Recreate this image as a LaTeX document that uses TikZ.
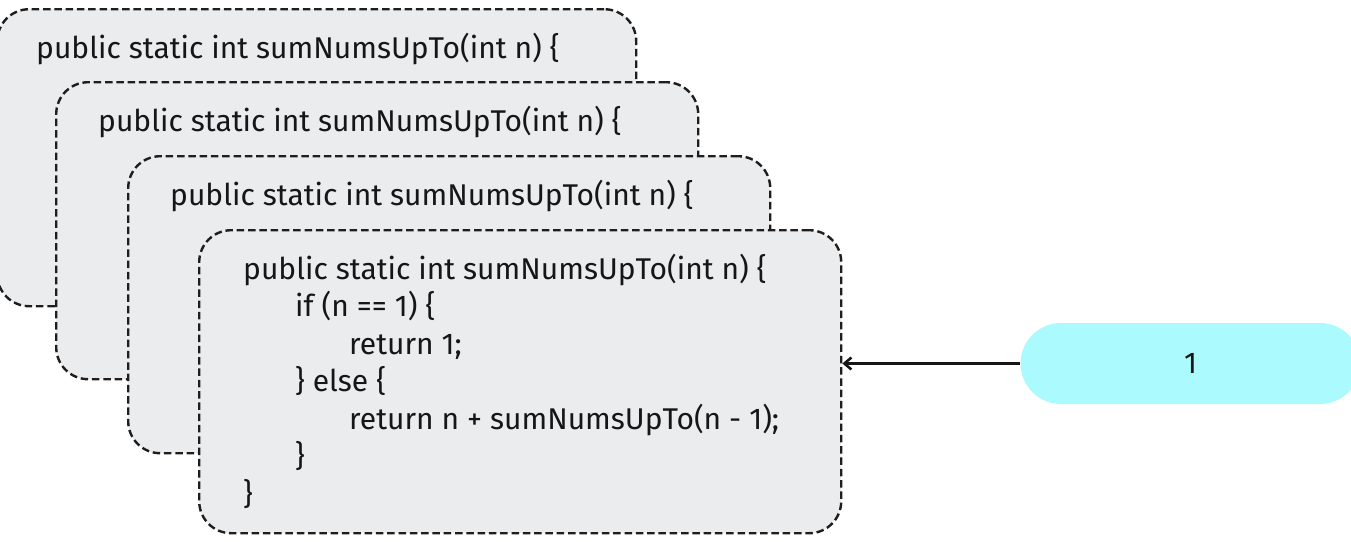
\documentclass[tikz,border=0pt]{standalone}
\usepackage{fontspec}
\setmainfont{Fira Sans}
\usetikzlibrary{arrows.meta}

\definecolor{boxfill}{HTML}{EBECEE}
\definecolor{boxline}{HTML}{1E1E1E}
\definecolor{pillfill}{HTML}{ABFAFE}
\definecolor{ink}{HTML}{161616}

\begin{document}
\begin{tikzpicture}[x=1pt,y=-1pt,
  frame/.style={draw=boxline, fill=boxfill, line width=2.4pt,
    dash pattern=on 7.5pt off 3.8pt, rounded corners=32pt,
    anchor=north west, inner sep=0pt, minimum width=642pt, minimum height=297pt},
  code/.style={anchor=base west, inner sep=0pt, text=ink,
    font=\fontsize{30}{36}\selectfont},
  pill/.style={fill=pillfill, draw=none, rounded corners=40.5pt,
    minimum width=340pt, minimum height=81pt, inner sep=0pt},
  link/.style={draw=ink, line width=2.6pt, -{Straight Barb[length=7pt,width=12pt]}},
]
\useasboundingbox (0,0) rectangle (1351,541);

% stacked call frames, deepest call on top
\node[frame, minimum width=639pt] (box1) at (-4,8) {};
\node[code] (b1l1) at (36,58) {public static int sumNumsUpTo(int n) \{};

\node[frame] (box2) at (55,81) {};
\node[code] (b2l1) at (98,131) {public static int sumNumsUpTo(int n) \{};

\node[frame] (box3) at (127,155) {};
\node[code] (b3l1) at (170,205) {public static int sumNumsUpTo(int n) \{};

\node[frame, minimum height=303pt] (box4) at (198,229) {};
\node[code] (b4l1) at (243,279)   {public static int sumNumsUpTo(int n) \{};
\node[code] (b4l2) at (295,316.5) {if (n == 1) \{};
\node[code] (b4l3) at (349,354)   {return 1;};
\node[code] (b4l4) at (295,391.5) {\} else \{};
\node[code] (b4l5) at (349,429)   {return n + sumNumsUpTo(n - 1);};
\node[code] (b4l6) at (295,466.5) {\}};
\node[code] (b4l7) at (243,504)   {\}};

% returned value
\node[pill, font=\fontsize{30}{36}\selectfont, text=ink] (ret) at (1190.5,363.5) {1};
\draw[link] (ret.west) -- (ret.west -| box4.east);
\end{tikzpicture}
\end{document}
